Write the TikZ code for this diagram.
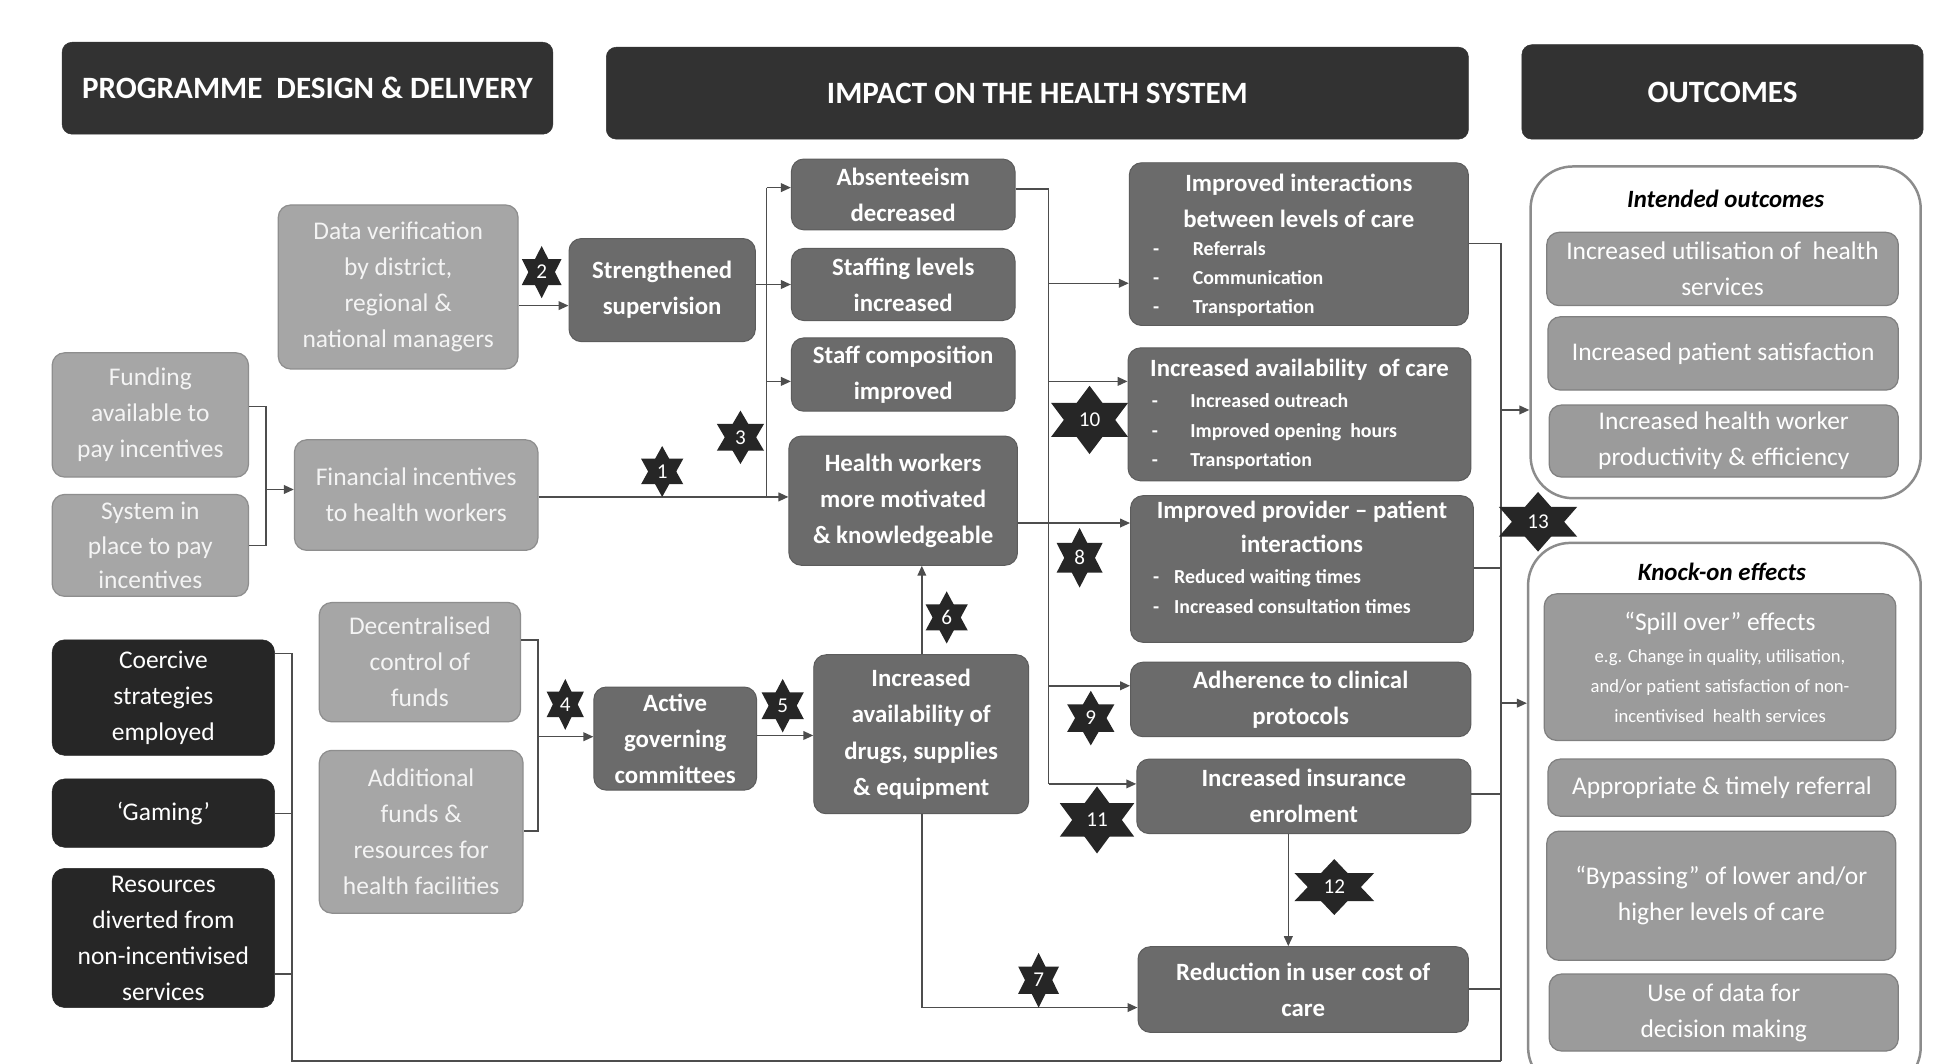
\documentclass[tikz,border=0pt]{standalone}
\usepackage{fontspec}
\setmainfont{Carlito}
\usetikzlibrary{arrows.meta}
\definecolor{hdrc}{HTML}{323232}
\definecolor{blkc}{HTML}{262626}
\definecolor{midc}{HTML}{6B6B6B}
\definecolor{midb}{HTML}{5C5C5C}
\definecolor{lightc}{HTML}{A6A6A6}
\definecolor{lightb}{HTML}{8E8E8E}
\definecolor{outc}{HTML}{9B9B9B}
\definecolor{outb}{HTML}{808080}
\definecolor{panelc}{HTML}{8C8C8C}
\definecolor{linec}{HTML}{4D4D4D}
\definecolor{starc}{HTML}{262626}
\definecolor{lighttxt}{HTML}{F4F4F4}
\tikzset{
  base/.style={rounded corners=10pt, align=center, inner sep=1pt, text=white,
    font=\fontsize{20.5}{29}\selectfont},
  hdr/.style={base, rounded corners=8pt, fill=hdrc, draw=hdrc, font=\bfseries\fontsize{25}{29}\selectfont},
  lbox/.style={base, fill=lightc, draw=lightb, line width=1pt, text=lighttxt},
  mbox/.style={base, fill=midc, draw=midb, line width=0.8pt, font=\bfseries\fontsize{20}{29}\selectfont},
  kbox/.style={base, fill=blkc, draw=blkc},
  obox/.style={base, fill=outc, draw=outb, line width=1pt},
  panel/.style={draw=panelc, line width=2pt, rounded corners=34pt, fill=white, inner sep=0pt},
  ptitle/.style={font=\bfseries\itshape\fontsize{20}{24}\selectfont, text=black, inner sep=0pt},
  btitle/.style={font=\bfseries\fontsize{20}{29}\selectfont, text=white, align=center, inner sep=0pt},
  blist/.style={font=\bfseries\fontsize{16}{23.5}\selectfont, text=white, align=left, inner sep=0pt, anchor=west},
  conn/.style={draw=linec, line width=1.2pt},
  arr/.style={conn, -{Triangle[length=8pt,width=7pt]}},
  startxt/.style={text=white, font=\fontsize{17}{20}\selectfont, inner sep=0pt},
}
\newcommand{\hstar}[6]{%
  \begin{scope}[shift={(#2,#3)}]
    \fill[starc] (0,-#5) -- ({-0.866*#4},{0.5*#5}) -- ({0.866*#4},{0.5*#5}) -- cycle;
    \fill[starc] (0,#5) -- ({-0.866*#4},{-0.5*#5}) -- ({0.866*#4},{-0.5*#5}) -- cycle;
  \end{scope}
  \node[startxt] (#1) at (#2,#3) {#6};
}
\begin{document}
\begin{tikzpicture}[x=1pt,y=-1pt]
\useasboundingbox (0,0) rectangle (1568,856);
\clip (0,0) rectangle (1568,856);
\fill[white] (0,0) rectangle (1568,856);

% ---------- headers
\node[hdr, minimum width=395pt, minimum height=74pt] (h1) at (247.5,71) {PROGRAMME\ \ DESIGN \& DELIVERY};
\node[hdr, minimum width=694pt, minimum height=74pt] (h2) at (835,75) {IMPACT ON THE HEALTH SYSTEM};
\node[hdr, minimum width=323pt, minimum height=76pt] (h3) at (1386.5,74) {OUTCOMES};

% ---------- outcome panels
\node[panel, minimum width=314pt, minimum height=267pt] (pint) at (1389,267.5) {};
\node[panel, minimum width=316pt, minimum height=440pt] (pko) at (1388,657) {};
\node[ptitle] (ti) at (1389,160) {Intended outcomes};
\node[ptitle] (tk) at (1386,460) {Knock-on effects};

\node[obox, minimum width=283pt, minimum height=59pt] (o1) at (1386.5,216.5) {Increased utilisation of\ \ health\\services};
\node[obox, minimum width=282pt, minimum height=59pt] (o2) at (1387,284.5) {Increased\ patient satisfaction};
\node[obox, minimum width=281pt, minimum height=58pt] (o3) at (1387.5,355) {Increased health worker\\productivity \& efficiency};

\node[obox, minimum width=283pt, minimum height=118pt] (ko1) at (1384.5,537) {};
\node[font=\fontsize{20.5}{24}\selectfont, text=white, inner sep=0pt] (ko1t) at (1384.5,502) {“Spill over” effects};
\node[font=\fontsize{15}{24}\selectfont, text=white, align=center, inner sep=0pt] (ko1b) at (1384.5,552) {e.g. Change in quality, utilisation,\\and/or patient satisfaction of non-\\incentivised\ \ health services};
\node[obox, minimum width=280pt, minimum height=46pt] (ko2) at (1386,634) {Appropriate \& timely referral};
\node[obox, minimum width=281pt, minimum height=104pt] (ko3) at (1385.5,721) {“Bypassing” of lower and/or\\higher levels of care};
\node[obox, minimum width=281pt, minimum height=62pt] (ko4) at (1387.5,815) {Use of data for\\decision making};

% ---------- connector junctions
\coordinate (fa) at (214,327);
\coordinate (sa) at (214,439);
\coordinate (fi) at (214,394);
\coordinate (dva) at (417,246);
\coordinate (b0) at (617,151);
\coordinate (b1) at (617,400);
\coordinate (b2) at (617,229);
\coordinate (b3) at (617,307);
\coordinate (da) at (433,515);
\coordinate (aa) at (433,669);
\coordinate (ai) at (433,593);
\coordinate (g1) at (609,592);
\coordinate (d6) at (742,500);
\coordinate (d7) at (742,811);
\coordinate (m0) at (844,152);
\coordinate (m1) at (844,228);
\coordinate (m2) at (844,307);
\coordinate (m3) at (844,552);
\coordinate (m4) at (844,631);
\coordinate (h8) at (860,421);
\coordinate (i12) at (1037,700);
\coordinate (r0) at (1208,196);
\coordinate (r1) at (1208,457);
\coordinate (r2) at (1208,639);
\coordinate (r3) at (1208,796);
\coordinate (ri) at (1208,330);
\coordinate (rk) at (1208,566);
\coordinate (r9) at (1208,854);
\coordinate (kb0) at (235,526);
\coordinate (kb1) at (235,655);
\coordinate (kb2) at (235,784);
\coordinate (kb9) at (235,854);

% ---------- left column boxes
\node[lbox, minimum width=193pt, minimum height=132pt] (dv) at (320.5,231) {Data verification\\by district,\\regional \&\\national managers};
\node[lbox, minimum width=158pt, minimum height=100pt] (fund) at (121,334) {Funding\\available to\\pay incentives};
\node[lbox, minimum width=158pt, minimum height=82pt, font=\fontsize{20.5}{27.5}\selectfont] (sys) at (121,439) {System in\\place to pay\\incentives};
\node[lbox, minimum width=196pt, minimum height=89pt] (fin) at (335,398.5) {Financial incentives\\to health workers};
\node[lbox, minimum width=162pt, minimum height=96pt] (dec) at (338,533) {Decentralised\\control of\\funds};
\node[lbox, minimum width=164pt, minimum height=131pt] (add) at (339,669.5) {Additional\\funds \&\\resources for\\health facilities};

\node[kbox, minimum width=179pt, minimum height=93pt] (coe) at (131.5,561.5) {Coercive\\strategies\\employed};
\node[kbox, minimum width=179pt, minimum height=55pt] (gam) at (131.5,654.5) {‘Gaming’};
\node[kbox, minimum width=179pt, minimum height=112pt] (res) at (131.5,755) {Resources\\diverted from\\non-incentivised\\services};

% ---------- middle boxes
\node[mbox, minimum width=150pt, minimum height=83pt] (sup) at (533,233.5) {Strengthened\\supervision};
\node[mbox, minimum width=180pt, minimum height=57pt] (abs) at (727,156.5) {Absenteeism\\decreased};
\node[mbox, minimum width=180pt, minimum height=58pt] (stf) at (727,229) {Staffing levels\\increased};
\node[mbox, minimum width=180pt, minimum height=59pt] (cmp) at (727,301.5) {Staff composition\\improved};
\node[mbox, minimum width=184pt, minimum height=104pt] (hw) at (727,403) {Health workers\\more motivated\\\& knowledgeable};
\node[mbox, minimum width=131pt, minimum height=83pt] (agc) at (543.5,594.5) {Active\\governing\\committees};
\node[mbox, minimum width=173pt, minimum height=128pt] (drg) at (741.5,591) {Increased\\availability of\\drugs, supplies\\\& equipment};

% ---------- health system boxes
\node[mbox, minimum width=273pt, minimum height=131pt] (iic) at (1045.5,196.5) {};
\node[btitle] (iict) at (1045.5,161.5) {Improved interactions\\between levels of care};
\node[blist] (iicl) at (928,224.5) {-\hspace{27pt}Referrals\\-\hspace{27pt}Communication\\-\hspace{27pt}Transportation};

\node[mbox, minimum width=276pt, minimum height=107pt] (iac) at (1046,333.5) {};
\node[btitle] (iact) at (1046,298) {Increased availability\ \ of care};
\node[blist] (iacl) at (927,347.5) {-\hspace{26pt}Increased outreach\\-\hspace{26pt}Improved opening\ \ hours\\-\hspace{26pt}Transportation};

\node[mbox, minimum width=276pt, minimum height=118pt] (ipp) at (1048,458) {};
\node[btitle, font=\bfseries\fontsize{20}{28}\selectfont] (ippt) at (1048,424) {Improved provider – patient\\interactions};
\node[blist, font=\bfseries\fontsize{16}{24}\selectfont] (ippl) at (928,476) {-\hspace{12pt}Reduced waiting times\\-\hspace{12pt}Increased consultation times};

\node[mbox, minimum width=274pt, minimum height=60pt] (adh) at (1047,563) {Adherence to clinical\\protocols};
\node[mbox, minimum width=269pt, minimum height=60pt] (ins) at (1049.5,641) {Increased insurance\\enrolment};
\node[mbox, minimum width=266pt, minimum height=69pt] (red) at (1049,796.5) {Reduction in user cost of\\care};

% ---------- connectors
\draw[conn] (fa -| fund.east) -- (fa) -- (sa) -- (sa -| sys.east);
\draw[arr] (fi) -- (fi -| fin.west);
\draw[arr] (dva -| dv.east) -- (dva -| sup.west);
\draw[arr] (b1 -| fin.east) -- (b1 -| hw.west);
\draw[conn] (b0) -- (b1);
\draw[arr] (b0) -- (b0 -| abs.west);
\draw[conn] (b2 -| sup.east) -- (b2);
\draw[arr] (b2) -- (b2 -| stf.west);
\draw[arr] (b3) -- (b3 -| cmp.west);
\draw[conn] (da -| dec.east) -- (da) -- (aa) -- (aa -| add.east);
\draw[arr] (ai) -- (ai -| agc.west);
\draw[arr] (g1 -| agc.east) -- (g1 -| drg.west);
\draw[arr] (d6 |- drg.north) -- (d6 |- hw.south);
\draw[arr] (d7 |- drg.south) -- (d7) -- (d7 -| red.west);
\draw[conn] (m0 -| abs.east) -- (m0) -- (m4);
\draw[arr] (m1) -- (m1 -| iic.west);
\draw[arr] (m2) -- (m2 -| iac.west);
\draw[arr] (m3) -- (m3 -| adh.west);
\draw[arr] (m4) -- (m4 -| ins.west);
\draw[arr] (h8 -| hw.east) -- (h8 -| ipp.west);
\draw[arr] (i12 |- ins.south) -- (i12 |- red.north);
\draw[conn] (r0 -| iic.east) -- (r0) -- (r9);
\draw[conn] (r1 -| ipp.east) -- (r1);
\draw[conn] (r2 -| ins.east) -- (r2);
\draw[conn] (r3 -| red.east) -- (r3);
\draw[arr] (ri) -- (ri -| pint.west);
\draw[arr] (rk) -- (rk -| pko.west);
\draw[conn] (kb0 -| coe.east) -- (kb0) -- (kb9) -- (r9);
\draw[conn] (kb1 -| gam.east) -- (kb1);
\draw[conn] (kb2 -| res.east) -- (kb2);

% ---------- stars
\hstar{s1}{533}{379.5}{19.6}{20.5}{1}
\hstar{s2}{436}{219}{18.5}{21}{2}
\hstar{s3}{596}{352}{21.9}{21.5}{3}
\hstar{s4}{455}{567}{17.3}{20.5}{4}
\hstar{s5}{630}{568}{19.6}{21.5}{5}
\hstar{s6}{762}{497}{19.6}{21}{6}
\hstar{s7}{836}{789}{19}{22}{7}
\hstar{s8}{869}{449}{21.4}{24}{8}
\hstar{s9}{878}{578}{21.9}{22}{9}
\hstar{s10}{877}{338}{35.8}{27.5}{10}
\hstar{s11}{883}{660}{34.6}{27}{11}
\hstar{s12}{1074}{714}{37}{22.5}{12}
\hstar{s13}{1238}{420}{36.4}{24}{13}
\end{tikzpicture}
\end{document}
